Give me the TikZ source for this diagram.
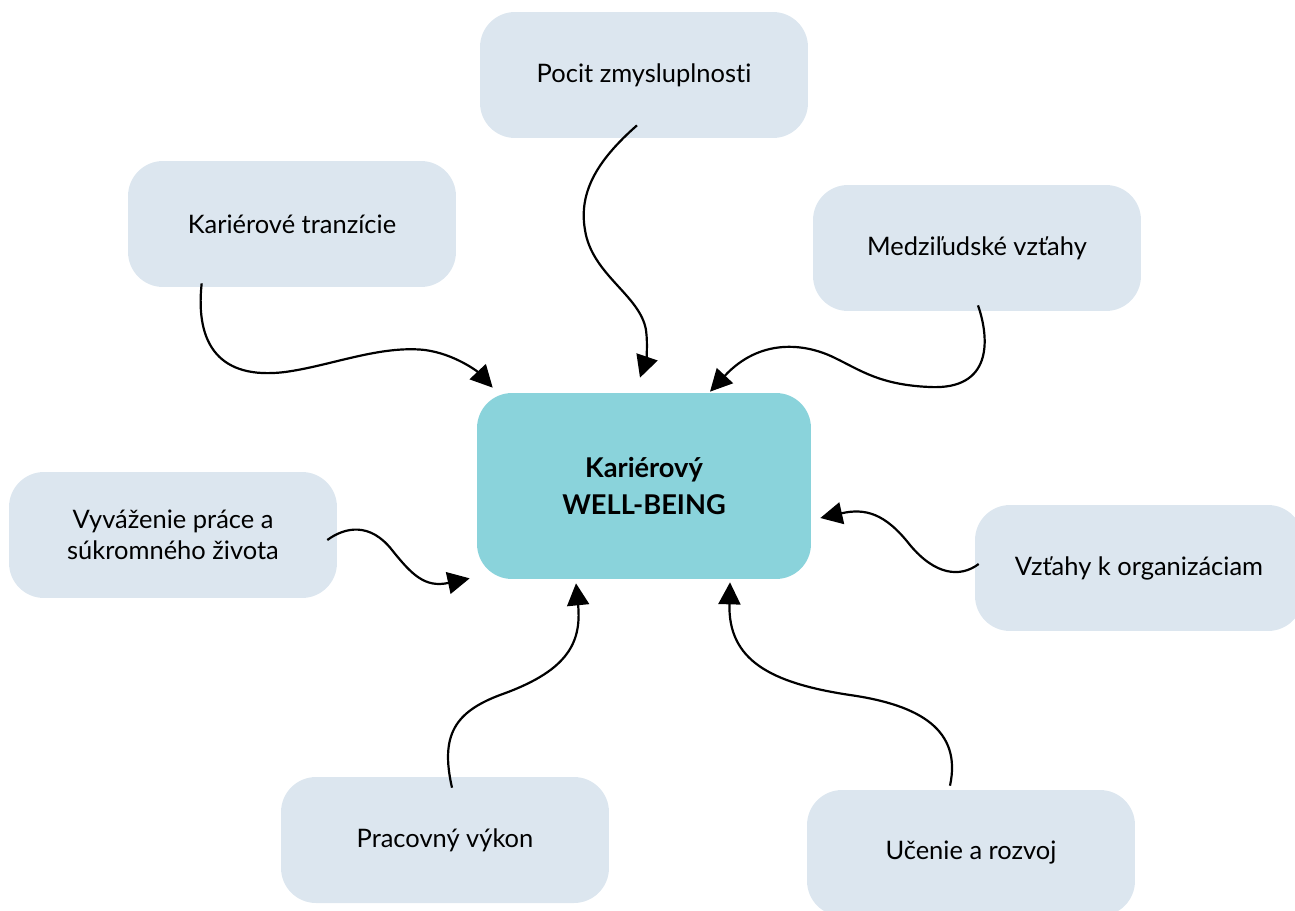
\documentclass[tikz,border=0pt]{standalone}
\usepackage{fontspec}
\setmainfont{Lato}[Ligatures={NoCommon,NoRare}]
\usetikzlibrary{arrows.meta}
\definecolor{boxfill}{HTML}{DCE6EF}
\definecolor{hubfill}{HTML}{8AD3DB}

\begin{document}
\begin{tikzpicture}[x=0.02cm, y=-0.02cm,
    box/.style={fill=boxfill, rounded corners=0.7cm, minimum width=6.56cm,
        minimum height=2.52cm, align=center, inner sep=0pt,
        font=\fontsize{14.5}{17.6}\selectfont},
    hub/.style={fill=hubfill, rounded corners=0.7cm, minimum width=6.68cm,
        minimum height=3.72cm, align=center, inner sep=0pt,
        font=\fontsize{15.5}{20.5}\selectfont\bfseries},
    link/.style={line width=1.25pt, -{Triangle[length=0.44cm,width=0.44cm]}}]
    \useasboundingbox (0,0) rectangle (1295,910);

    % Center
    \node[hub] (wb) at (644,486) {Kariérový\\WELL-BEING};

    % Surrounding topics
    \node[box] (pocit) at (644,75) {Pocit zmysluplnosti};
    \node[box] (tranz) at (292,224) {Kariérové tranzície};
    \node[box] (medzi) at (977,248) {Medziľudské vzťahy};
    \node[box] (vyvaz) at (173,535) {Vyváženie práce a\\súkromného života};
    \node[box] (org) at (1139,568) {Vzťahy k organizáciam};
    \node[box] (vykon) at (445,840) {Pracovný výkon};
    \node[box] (ucenie) at (971,853) {Učenie a rozvoj};

    % Arrows into the center
    \draw[link] ([shift={(-7,-13)}]pocit.south)
        .. controls (600,158) and (578,190) .. (585,230)
        .. controls (592,275) and (640,295) .. (646,330)
        .. controls (648,345) and (646,360) .. ([shift={(-4,-15)}]wb.north);
    \draw[link] ([shift={(74,-4)}]tranz.south west)
        .. controls (195,345) and (220,380) .. (285,372)
        .. controls (330,366) and (380,345) .. (425,350)
        .. controls (455,354) and (478,372) .. ([shift={(16,-5)}]wb.north west);
    \draw[link] ([shift={(1,-6)}]medzi.south)
        .. controls (990,340) and (992,390) .. (930,387)
        .. controls (880,385) and (860,370) .. (835,358)
        .. controls (805,343) and (760,338) .. ([shift={(66,-1)}]wb.north);
    \draw[link] ([shift={(-10,5)}]vyvaz.east)
        .. controls (345,527) and (370,522) .. (392,550)
        .. controls (412,575) and (425,588) .. ([shift={(-7,-1)}]wb.south west);
    \draw[link] ([shift={(4,-4)}]org.west)
        .. controls (960,578) and (935,575) .. (910,545)
        .. controls (885,513) and (865,508) .. ([shift={(9,32)}]wb.east);
    \draw[link] ([shift={(7,11)}]vykon.north)
        .. controls (440,735) and (455,712) .. (500,695)
        .. controls (565,672) and (582,645) .. ([shift={(-68,4)}]wb.south);
    \draw[link] ([shift={(-21,-4)}]ucenie.north)
        .. controls (962,730) and (920,705) .. (850,695)
        .. controls (770,683) and (728,660) .. ([shift={(86,3)}]wb.south);
\end{tikzpicture}
\end{document}
